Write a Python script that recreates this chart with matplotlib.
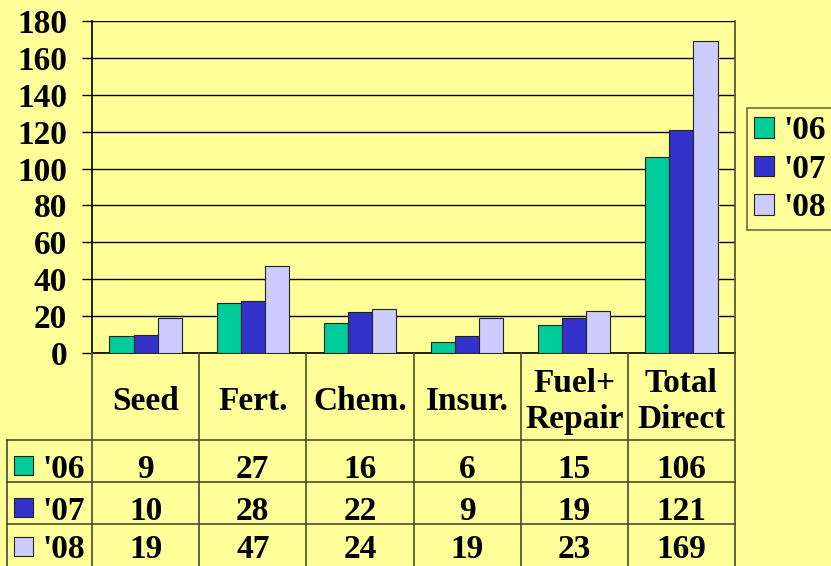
import matplotlib
matplotlib.use("Agg")
import matplotlib.pyplot as plt
from matplotlib.patches import Rectangle
import numpy as np

categories = ["Seed", "Fert.", "Chem.", "Insur.", "Fuel+\nRepair", "Total\nDirect"]
series_names = ["'06", "'07", "'08"]
v06 = [9, 27, 16, 6, 15, 106]
v07 = [10, 28, 22, 9, 19, 121]
v08 = [19, 47, 24, 19, 23, 169]
yticks = [0, 20, 40, 60, 80, 100, 120, 140, 160, 180]

colors = ["#00CC99", "#3333CC", "#CCCCFF"]
bg = "#FFFF99"
linec = "#4a4a30"
FONT = "Liberation Serif"
FS = 24

W, H = 831, 566
fig = plt.figure(figsize=(W / 100, H / 100), dpi=100, facecolor=bg)

x0, x1, ytop, ybot = 92, 735, 21, 353
ax = fig.add_axes([x0 / W, 1 - ybot / H, (x1 - x0) / W, (ybot - ytop) / H])
ax.set_facecolor(bg)
x = np.arange(len(categories))
bw = 0.225
series = [v06, v07, v08]
bars = []
for i, (vals, c, name) in enumerate(zip(series, colors, series_names)):
    b = ax.bar(x + (i - 1) * bw, vals, bw, color=c, edgecolor="#222222",
               linewidth=0.8, label=name, zorder=3)
    bars.append(b)
ax.set_xlim(-0.5, len(categories) - 0.5)
ax.set_ylim(0, 180)
ax.set_yticks(yticks)
ax.set_yticklabels([str(t) for t in yticks], fontfamily=FONT, fontweight="bold", fontsize=FS)
ax.tick_params(axis="y", length=7, width=1, pad=11, direction="out")
ax.set_xticks([])
ax.yaxis.grid(True, color="black", linewidth=1, zorder=0)
ax.set_axisbelow(True)
for s in ["left", "bottom"]:
    ax.spines[s].set_color("black")
    ax.spines[s].set_linewidth(1.2)
ax.spines["top"].set_visible(False)
ax.spines["right"].set_color(linec)
ax.spines["right"].set_linewidth(1.2)

# legend
leg = fig.legend(handles=bars, labels=series_names, loc="upper left",
                 bbox_to_anchor=(747 / W, 1 - 108 / H),
                 prop={"family": FONT, "weight": "bold", "size": FS},
                 frameon=True, fancybox=False, facecolor=bg, edgecolor=linec,
                 handlelength=0.58, handleheight=0.58, handletextpad=0.3,
                 labelspacing=0.22, borderpad=0.22, borderaxespad=0)
leg.get_frame().set_linewidth(1.2)

# table overlay
tx = fig.add_axes([0, 0, 1, 1])
tx.set_xlim(0, W)
tx.set_ylim(H, 0)
tx.axis("off")
tx.patch.set_alpha(0)
cols = np.linspace(x0, x1, len(categories) + 1)
row_y = [440, 482, 524, 566]
lw = 1.2
for cx in cols:
    tx.plot([cx, cx], [ybot, H], color=linec, lw=lw)
tx.plot([7, 7], [row_y[0], H], color=linec, lw=lw)
for ry in row_y[:-1]:
    tx.plot([7, x1], [ry, ry], color=linec, lw=lw)
tfont = dict(family=FONT, weight="bold", size=FS, ha="center", va="center")
for j, cat in enumerate(categories):
    cx = (cols[j] + cols[j + 1]) / 2
    tx.text(cx, (ybot + row_y[0]) / 2 + 5, cat, linespacing=1.2, **tfont)
row_centers = [(row_y[k] + row_y[k + 1]) / 2 + o for k, o in zip(range(3), (8, 8, 5))]
for k, (vals, c, name) in enumerate(zip(series, colors, series_names)):
    rc = row_centers[k]
    tx.add_patch(Rectangle((14, rc - 13), 19, 19, facecolor=c, edgecolor="#222222", lw=0.8))
    tx.text(42, rc, name, family=FONT, weight="bold", size=FS, ha="left", va="center")
    for j, v in enumerate(vals):
        cx = (cols[j] + cols[j + 1]) / 2
        tx.text(cx, rc, str(v), **tfont)

fig.savefig("out.png", dpi=100, facecolor=bg)
